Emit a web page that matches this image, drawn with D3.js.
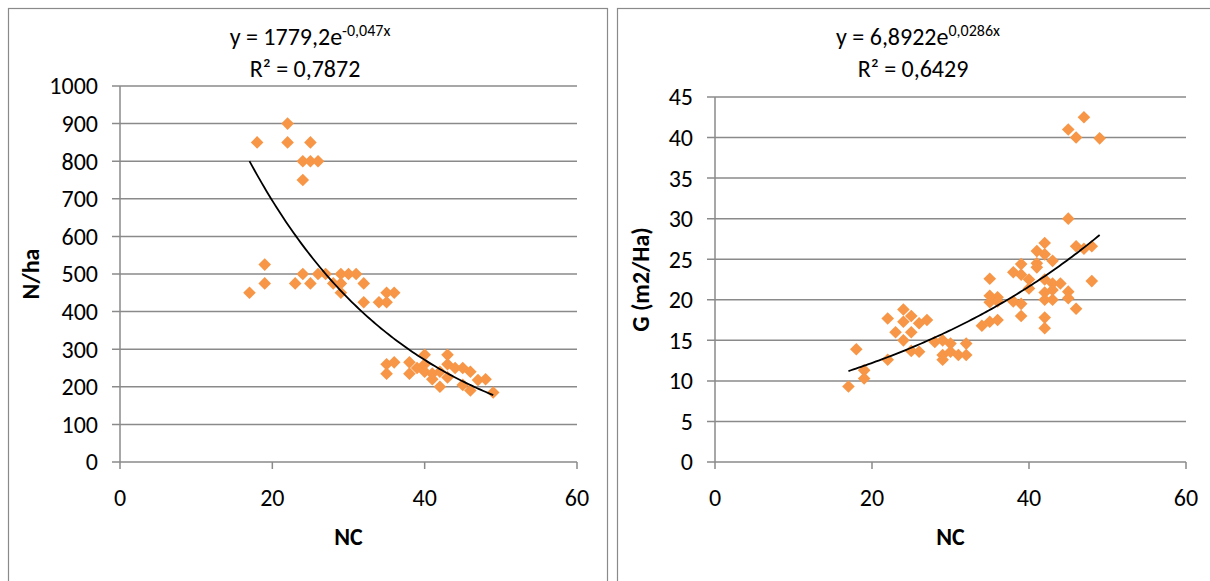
<!DOCTYPE html>
<html>
<head>
<meta charset="utf-8">
<script src="https://cdn.jsdelivr.net/npm/d3@7/dist/d3.min.js"></script>
<style>
  html, body { margin: 0; padding: 0; background: #fff; }
  svg { display: block; font-family: Carlito, Calibri, Lato, "Open Sans", sans-serif; }
</style>
</head>
<body>
<svg id="chart" width="1210" height="581"></svg>
<script>
// Stand density (N/ha) against NC
const densityNC = [18, 22, 22, 25, 24, 25, 26, 24,
  17, 19, 19, 23, 24, 25, 26, 27, 28, 29, 29, 29, 30, 31, 32, 32, 34, 35, 35, 36,
  35, 35, 36, 38, 38, 39, 40, 40, 40, 41, 41, 42, 42, 43, 43, 43, 44, 45, 45, 46, 46, 47, 48, 49];
const densityN = [850, 900, 850, 850, 800, 800, 800, 750,
  450, 525, 475, 475, 500, 475, 500, 500, 475, 450, 475, 500, 500, 500, 475, 425, 425, 450, 425, 450,
  235, 260, 265, 235, 265, 250, 285, 260, 240, 220, 235, 200, 240, 285, 260, 225, 250, 250, 205, 240, 190, 218, 220, 185];

// Basal area G (m2/Ha) against NC
const basalNC = [17, 18, 19, 19, 22, 22, 23, 24, 24, 24, 25, 25, 25, 26, 26, 27, 28, 29, 29, 29, 30, 30, 31, 32, 32,
  34, 35, 35, 35, 35, 36, 36, 36, 38, 38, 39, 39, 39, 39, 40, 40, 41, 41, 41, 42, 42, 42, 42, 42, 42, 42,
  43, 43, 43, 43, 44, 45, 45, 45, 45, 46, 46, 46, 47, 47, 48, 48, 49];
const basalG = [9.3, 13.9, 11.3, 10.3, 17.7, 12.6, 16.0, 18.8, 17.3, 15.0, 18.0, 16.0, 13.7, 17.1, 13.6, 17.5, 14.8, 15.0, 13.2, 12.6, 14.6, 13.6, 13.2, 14.6, 13.2,
  16.8, 17.3, 19.7, 20.5, 22.6, 17.5, 20.3, 19.8, 23.4, 19.8, 24.4, 23.1, 19.5, 18.0, 22.5, 21.4, 26.0, 24.5, 24.0, 27.0, 25.6, 22.5, 20.9, 20.0, 17.8, 16.5,
  24.8, 22.0, 21.2, 20.0, 22.0, 30.0, 41.0, 21.0, 20.2, 40.0, 26.6, 18.9, 42.5, 26.3, 26.6, 22.3, 39.9];

// Tick values and fitted exponential trends
const xTicks = [0, 20, 40, 60];
const densityTicks = [0, 100, 200, 300, 400, 500, 600, 700, 800, 900, 1000];
const basalTicks = [0, 5, 10, 15, 20, 25, 30, 35, 40, 45];
const densityFit = { a: 1779.2, b: -0.047, label: "1779,2e", exp: "-0,047x", r2: "R² = 0,7872" };
const basalFit = { a: 6.8922, b: 0.0286, label: "6,8922e", exp: "0,0286x", r2: "R² = 0,6429" };

const svg = d3.select("#chart");
const gridColor = "#8a8a8a";
const markerColor = "#F79646";
const fontSize = 24;

// Panel frames
svg.append("rect").attr("x", 8.5).attr("y", 8.5).attr("width", 599).attr("height", 600)
  .attr("fill", "none").attr("stroke", gridColor).attr("stroke-width", 1.2);
svg.append("rect").attr("x", 617.5).attr("y", 8.5).attr("width", 600).attr("height", 600)
  .attr("fill", "none").attr("stroke", gridColor).attr("stroke-width", 1.2);

function diamond(s) {
  return `M0,${-s}L${s},0L0,${s}L${-s},0Z`;
}

function drawPanel(opt) {
  const x = d3.scaleLinear().domain([0, 60]).range([opt.left, opt.right]);
  const y = d3.scaleLinear().domain([0, opt.yMax]).range([opt.bottom, opt.top]);
  const g = svg.append("g");

  // horizontal gridlines (extend left as tick marks)
  g.selectAll("line.grid").data(opt.yTicks).join("line")
    .attr("x1", opt.left - 8).attr("x2", opt.right)
    .attr("y1", d => y(d)).attr("y2", d => y(d))
    .attr("stroke", gridColor).attr("stroke-width", 1.5);

  // y axis line
  g.append("line").attr("x1", opt.left).attr("x2", opt.left)
    .attr("y1", opt.top).attr("y2", opt.bottom)
    .attr("stroke", gridColor).attr("stroke-width", 1.5);

  // x axis ticks
  g.selectAll("line.xt").data(xTicks).join("line")
    .attr("x1", d => x(d)).attr("x2", d => x(d))
    .attr("y1", opt.bottom).attr("y2", opt.bottom + 7)
    .attr("stroke", gridColor).attr("stroke-width", 1.5);

  // y tick labels
  g.selectAll("text.yl").data(opt.yTicks).join("text")
    .attr("x", opt.left - 22).attr("y", d => y(d)).attr("dy", "0.35em")
    .attr("text-anchor", "end").attr("font-size", fontSize).attr("fill", "#000")
    .text(d => d);

  // x tick labels
  g.selectAll("text.xl").data(xTicks).join("text")
    .attr("x", d => x(d)).attr("y", opt.bottom + 44)
    .attr("text-anchor", "middle").attr("font-size", fontSize).attr("fill", "#000")
    .text(d => d);

  // axis titles
  g.append("text").attr("x", (opt.left + opt.right) / 2).attr("y", 545)
    .attr("text-anchor", "middle").attr("font-size", fontSize).attr("font-weight", "bold")
    .text("NC");
  g.append("text")
    .attr("transform", `translate(${opt.yTitleX},${(opt.top + opt.bottom) / 2}) rotate(-90)`)
    .attr("text-anchor", "middle").attr("dy", "0.35em").attr("font-size", fontSize).attr("font-weight", "bold")
    .text(opt.yTitle);

  // points
  const pts = opt.xs.map((v, i) => [v, opt.ys[i]]);
  g.selectAll("path.pt").data(pts).join("path")
    .attr("d", diamond(6.3))
    .attr("transform", d => `translate(${x(d[0])},${y(d[1])})`)
    .attr("fill", markerColor);

  // exponential trendline across the observed NC range
  const xmin = d3.min(opt.xs), xmax = d3.max(opt.xs);
  const curve = d3.range(0, 101).map(i => {
    const xv = xmin + (xmax - xmin) * i / 100;
    return [xv, opt.fit.a * Math.exp(opt.fit.b * xv)];
  });
  g.append("path").datum(curve)
    .attr("d", d3.line().x(d => x(d[0])).y(d => y(d[1])))
    .attr("fill", "none").attr("stroke", "#000").attr("stroke-width", 1.8);

  // equation label
  const eq = g.append("text").attr("x", opt.eqX).attr("y", 45)
    .attr("text-anchor", "middle").attr("font-size", fontSize);
  eq.append("tspan").text("y = " + opt.fit.label);
  eq.append("tspan").attr("dy", -9).attr("font-size", 16).text(opt.fit.exp);
  g.append("text").attr("x", opt.eqX - 5).attr("y", 77)
    .attr("text-anchor", "middle").attr("font-size", fontSize).text(opt.fit.r2);
}

drawPanel({
  left: 120, right: 577, top: 86, bottom: 462, yMax: 1000,
  yTicks: densityTicks, xs: densityNC, ys: densityN, fit: densityFit,
  yTitle: "N/ha", yTitleX: 31, eqX: 310
});

drawPanel({
  left: 715, right: 1186, top: 97, bottom: 462, yMax: 45,
  yTicks: basalTicks, xs: basalNC, ys: basalG, fit: basalFit,
  yTitle: "G (m2/Ha)", yTitleX: 641, eqX: 918
});
</script>
</body>
</html>
